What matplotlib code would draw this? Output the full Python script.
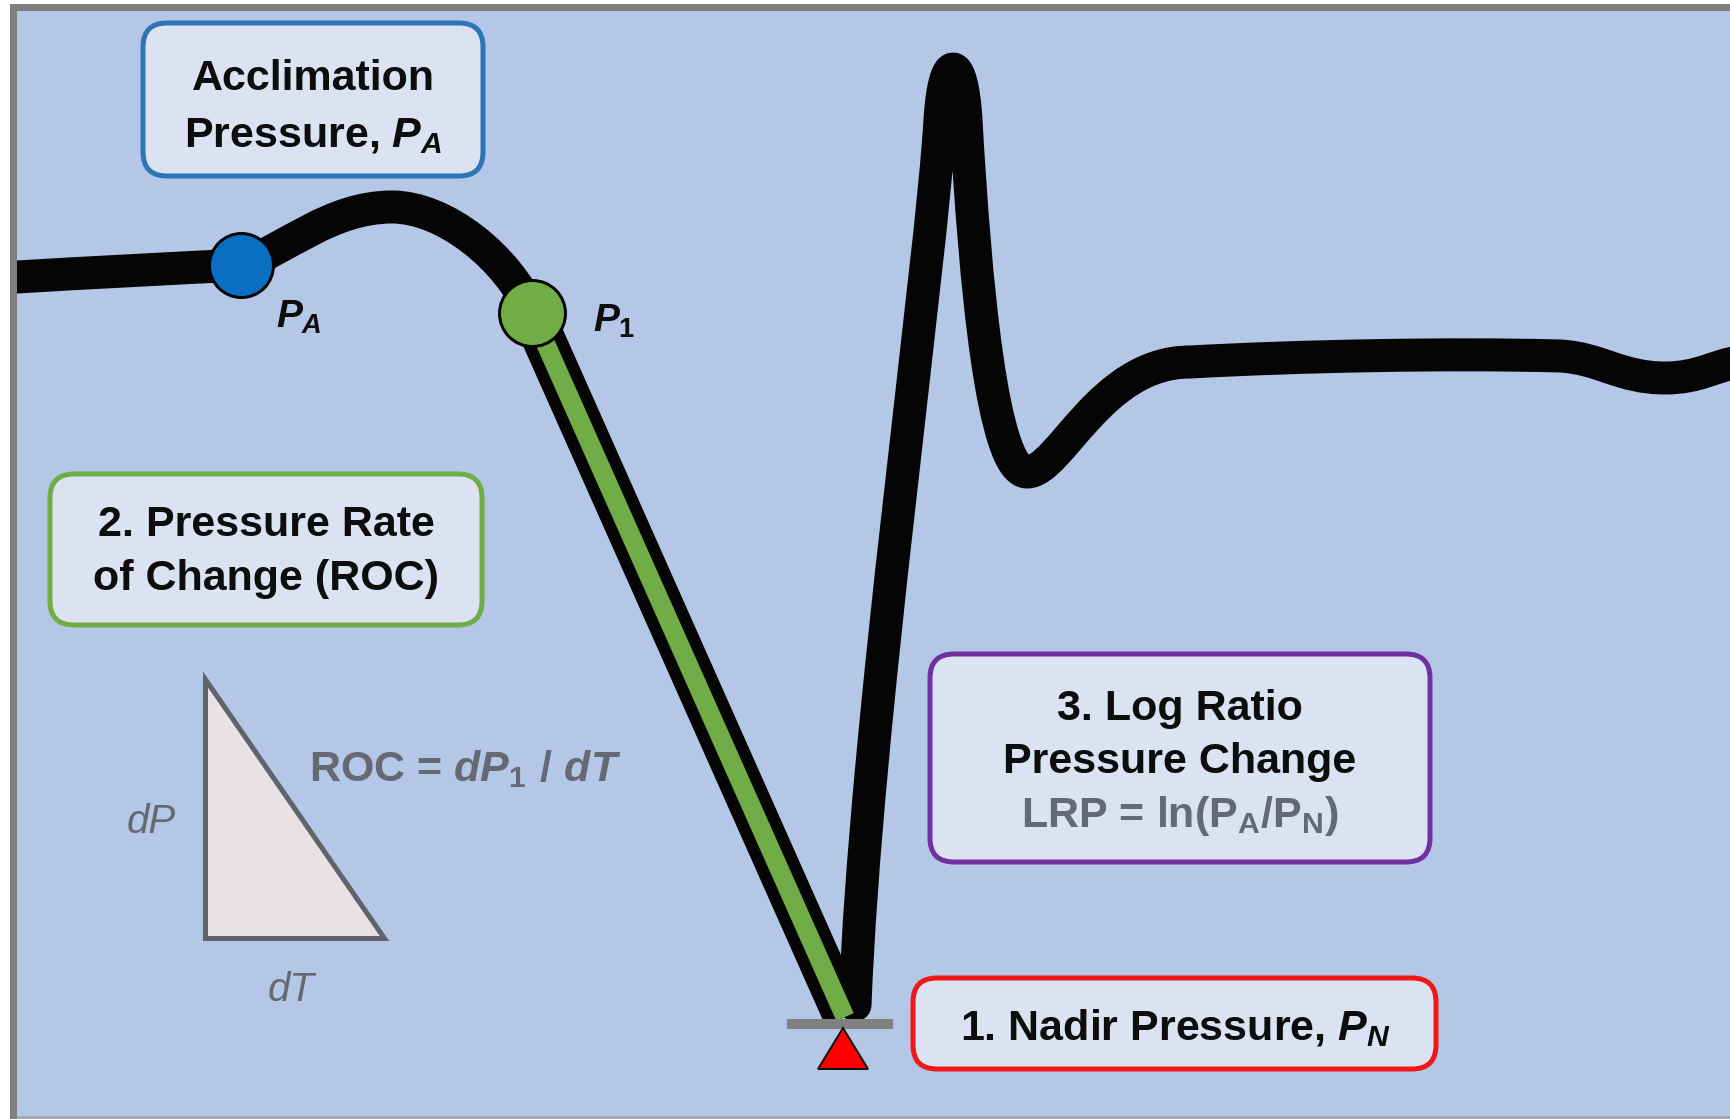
import numpy as np
import matplotlib.pyplot as plt
from matplotlib.path import Path
from matplotlib.patches import PathPatch, FancyBboxPatch, Polygon, Rectangle

plt.rcParams['font.family'] = ['Liberation Sans', 'DejaVu Sans']
plt.rcParams['mathtext.fontset'] = 'custom'
plt.rcParams['mathtext.rm'] = 'Liberation Sans:bold'
plt.rcParams['mathtext.it'] = 'Liberation Sans:italic:bold'
plt.rcParams['mathtext.bf'] = 'Liberation Sans:bold'

# pressure trace as cubic bezier anchors + handles (pixel space, y grows downward)
trace_left_x = [0, 100, 180, 241, 285, 330, 392, 445, 508, 532]
trace_left_y = [278, 272, 268, 265, 250, 207, 207, 207, 258, 313]
trace_right_x = [855, 866, 931, 940, 944, 962, 966, 975, 992, 1027, 1060, 1100, 1190,
                 1300, 1450, 1560, 1600, 1620, 1665, 1700, 1715, 1740]
trace_right_y = [1005, 720, 270, 120, 52, 52, 120, 280, 472, 472, 472, 362, 362,
                 356, 353, 356, 358, 378, 378, 378, 365, 362]

# rate of change line, P1 -> nadir
roc_x = [532, 845]
roc_y = [313, 1017]

# key points
pa_x, pa_y = 241, 265
p1_x, p1_y = 532, 313
nadir_x, nadir_y = 843, 1024

box_texts = {
    'accl': ['Acclimation', 'Pressure, $P_A$'],
    'roc': ['2. Pressure Rate', 'of Change (ROC)'],
    'lrp': ['3. Log Ratio', 'Pressure Change'],
    'nadir': ['1. Nadir Pressure, $P_N$'],
}
lrp_formula = r'LRP = ln(P$_\mathrm{A}$/P$_\mathrm{N}$)'
roc_formula = r'ROC = $dP_{\mathit{1}}\ \mathit{/}\ dT$'

PX = 0.72  # px -> pt at dpi 100

BG = '#b4c7e7'
BOXFILL = '#dbe3f3'
GRAY_TXT = '#646973'

fig = plt.figure(figsize=(17.31, 11.19), dpi=100)
fig.patch.set_facecolor('white')
ax = fig.add_axes([0, 0, 1, 1])
ax.set_xlim(0, 1731)
ax.set_ylim(1119, 0)
ax.axis('off')

# background + frame
ax.add_patch(Rectangle((10, 4), 1731, 1120, facecolor=BG, edgecolor='none', zorder=0))
ax.add_patch(Rectangle((0, 0), 10, 1119, facecolor='white', edgecolor='none', zorder=9))
ax.add_patch(Rectangle((10, 4), 1731, 7, facecolor='#7f7f7f', edgecolor='none', zorder=9))
ax.add_patch(Rectangle((10, 4), 7, 1120, facecolor='#7f7f7f', edgecolor='none', zorder=9))
ax.add_patch(Rectangle((17, 1116), 1731, 3, facecolor='#a3a8b4', edgecolor='none', zorder=9))

# trace
left_codes = [Path.MOVETO] + [Path.CURVE4] * (len(trace_left_x) - 1)
right_codes = [Path.MOVETO] + [Path.CURVE4] * (len(trace_right_x) - 1)
ax.add_patch(PathPatch(Path(np.column_stack([trace_left_x, trace_left_y]), left_codes),
                       facecolor='none', edgecolor='#050505', lw=33 * PX,
                       capstyle='butt', joinstyle='round', zorder=2))
ax.add_patch(PathPatch(Path(np.column_stack([trace_right_x, trace_right_y]), right_codes),
                       facecolor='none', edgecolor='#050505', lw=33 * PX,
                       capstyle='round', joinstyle='round', zorder=2))

# descent with green ROC line on top
ax.plot(roc_x, roc_y, color='#050505', lw=43 * PX, solid_capstyle='butt', zorder=3)
ax.plot(roc_x, roc_y, color='#70ad47', lw=19 * PX, solid_capstyle='butt', zorder=4)

# nadir marker: grey bar + red triangle
ax.plot([nadir_x - 56, nadir_x + 50], [nadir_y, nadir_y], color='#808080',
        lw=10 * PX, solid_capstyle='butt', zorder=6)
ax.add_patch(Polygon([[nadir_x, nadir_y + 4], [nadir_x - 25, nadir_y + 45],
                      [nadir_x + 25, nadir_y + 45]], closed=True,
                     facecolor='#ff0000', edgecolor='#111111', lw=2 * PX, zorder=6))

# PA and P1 points
ax.plot(pa_x, pa_y, 'o', ms=64 * PX, mfc='#0a6fc2', mec='#050505', mew=3 * PX, zorder=5)
ax.plot(p1_x, p1_y, 'o', ms=66 * PX, mfc='#70ad47', mec='#050505', mew=3 * PX, zorder=5)
ax.text(276, 328, '$P_A$', fontsize=28, color='#0d0d0d', ha='left', va='baseline', zorder=8)
ax.text(593, 332, r'$P_{\mathit{1}}$', fontsize=28, color='#0d0d0d', ha='left', va='baseline', zorder=8)


def box(x, y, w, h, edge):
    ax.add_patch(FancyBboxPatch((x, y), w, h, boxstyle='round,pad=0,rounding_size=24',
                                facecolor=BOXFILL, edgecolor=edge, lw=5 * PX, zorder=7))


box(143, 23, 340, 153, '#2e75b6')
box(50, 474, 432, 151, '#70ad47')
box(930, 654, 500, 208, '#7030a0')
box(913, 978, 523, 91, '#f01818')

FS = 31
for txt, yb in zip(box_texts['accl'], [90, 147]):
    ax.text(313, yb, txt, fontsize=FS, fontweight='bold', ha='center', va='baseline',
            color='#0d0d0d', zorder=8)
for txt, yb in zip(box_texts['roc'], [536, 590]):
    ax.text(266, yb, txt, fontsize=FS, fontweight='bold', ha='center', va='baseline',
            color='#0d0d0d', zorder=8)
for txt, yb in zip(box_texts['lrp'], [720, 773]):
    ax.text(1180, yb, txt, fontsize=FS, fontweight='bold', ha='center', va='baseline',
            color='#0d0d0d', zorder=8)
ax.text(1180, 827, lrp_formula, fontsize=FS, fontweight='bold', ha='center', va='baseline',
        color=GRAY_TXT, zorder=8)
ax.text(1175, 1040, box_texts['nadir'][0], fontsize=FS, fontweight='bold', ha='center',
        va='baseline', color='#0d0d0d', zorder=8)

# dP/dT triangle
ax.add_patch(Polygon([[205, 679], [205, 938], [384, 938]], closed=True,
                     facecolor='#e8e2e4', edgecolor='#5f636b', lw=5 * PX,
                     joinstyle='miter', zorder=6))
ax.text(127, 833, 'dP', fontsize=29, fontstyle='italic', color=GRAY_TXT,
        ha='left', va='baseline', zorder=8)
ax.text(268, 1001, 'dT', fontsize=29, fontstyle='italic', color=GRAY_TXT,
        ha='left', va='baseline', zorder=8)
ax.text(309, 781, roc_formula, fontsize=FS, fontweight='bold', color=GRAY_TXT,
        ha='left', va='baseline', zorder=8)

fig.savefig('out.png', dpi=100, facecolor='white')
